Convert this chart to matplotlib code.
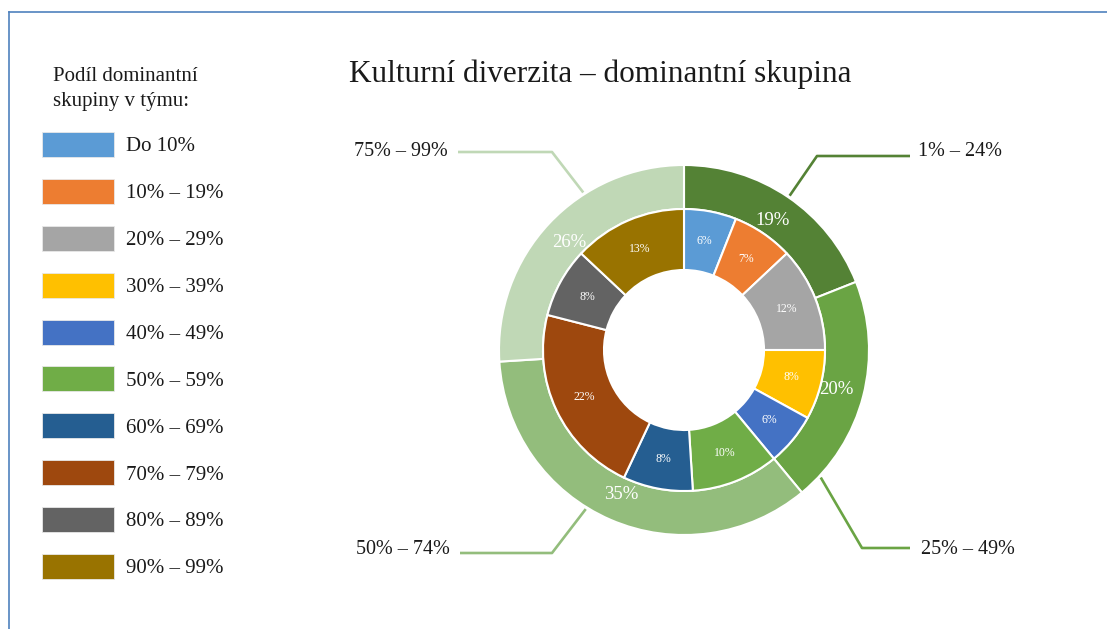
import numpy as np
import matplotlib.pyplot as plt
from matplotlib.lines import Line2D

plt.rcParams['font.family'] = ['Liberation Serif', 'DejaVu Serif']

# data
outer_labels = ['1% – 24%', '25% – 49%', '50% – 74%', '75% – 99%']
outer_values = [19, 20, 35, 26]
outer_colors = ['#548235', '#6aa444', '#93bd7c', '#c0d8b6']

inner_labels = ['Do 10%', '10% – 19%', '20% – 29%', '30% – 39%', '40% – 49%',
                '50% – 59%', '60% – 69%', '70% – 79%', '80% – 89%', '90% – 99%']
inner_values = [6, 7, 12, 8, 6, 10, 8, 22, 8, 13]
inner_colors = ['#5b9bd5', '#ed7d31', '#a5a5a5', '#ffc000', '#4472c4',
                '#70ad47', '#255e91', '#9e480e', '#636363', '#997300']

W, H = 1107, 629
fig = plt.figure(figsize=(W / 100, H / 100), dpi=100)
ax = fig.add_axes([0, 0, 1, 1])

cx, cy = 684, H - 350
r_out, r_mid, r_in = 185, 141, 80

wo, _, to = ax.pie(outer_values, radius=r_out, center=(cx, cy), startangle=90,
                   counterclock=False, colors=outer_colors,
                   wedgeprops=dict(width=r_out - r_mid, edgecolor='white', linewidth=1.5),
                   autopct=lambda p: f'{p:.0f}%', pctdistance=157 / r_out,
                   textprops=dict(color='white', fontsize=13.5))
wi, _, ti = ax.pie(inner_values, radius=r_mid, center=(cx, cy), startangle=90,
                   counterclock=False, colors=inner_colors,
                   wedgeprops=dict(width=r_mid - r_in, edgecolor='white', linewidth=1.5),
                   autopct=lambda p: f'{p:.0f}%', pctdistance=(r_mid + r_in) / 2 / r_mid,
                   textprops=dict(color='white', fontsize=8.5))

ax.set_xlim(0, W)
ax.set_ylim(0, H)
ax.set_aspect('equal')
ax.axis('off')

# leader lines to the outer ring labels
anchor_angles = [55.6, -43, -121.7, 122.6]
elbows = [(817, 156), (862, 548), (552, 553), (552, 152)]
line_ends = [910, 910, 460, 458]
text_pos = [(918, 152), (921, 550), (450, 550), (448, 152)]
for i, lab in enumerate(outer_labels):
    a = np.radians(anchor_angles[i])
    sx, sy = cx + 187 * np.cos(a), cy + 187 * np.sin(a)
    ex, ey = elbows[i]
    ax.plot([sx, ex, line_ends[i]], [sy, H - ey, H - ey], color=outer_colors[i],
            lw=1.9, solid_capstyle='butt')
    tx, ty = text_pos[i]
    ax.text(tx, H - ty, lab, fontsize=14.5, ha='left' if tx > cx else 'right',
            va='center', color='#1a1a1a')

ax.text(600, H - 82, 'Kulturní diverzita – dominantní skupina', fontsize=22.5,
        ha='center', va='baseline', color='#1a1a1a')

# legend
ax.text(53, H - 89, 'Podíl dominantní\nskupiny v týmu:', fontsize=15,
        ha='left', va='center', linespacing=1.4, color='#1a1a1a')
leg = ax.legend(wi, inner_labels, loc='upper left', bbox_to_anchor=(42 / W, 1 - 132 / H),
                bbox_transform=fig.transFigure, frameon=False, fontsize=15,
                handlelength=3.46, handleheight=1.47, handletextpad=0.55,
                labelspacing=1.05, borderpad=0, borderaxespad=0)
for t in leg.get_texts():
    t.set_color('#1a1a1a')
for h in leg.legend_handles:
    h.set_edgecolor('#e8e8e8')
    h.set_linewidth(0.6)

# frame lines of the original slide
fig.add_artist(Line2D([9 / W, 1], [1 - 12 / H, 1 - 12 / H], color='#4f81bd', lw=1.2,
                      transform=fig.transFigure))
fig.add_artist(Line2D([9 / W, 9 / W], [0, 1 - 12 / H], color='#4f81bd', lw=1.2,
                      transform=fig.transFigure))

fig.savefig('out.png', dpi=100, facecolor='white')
